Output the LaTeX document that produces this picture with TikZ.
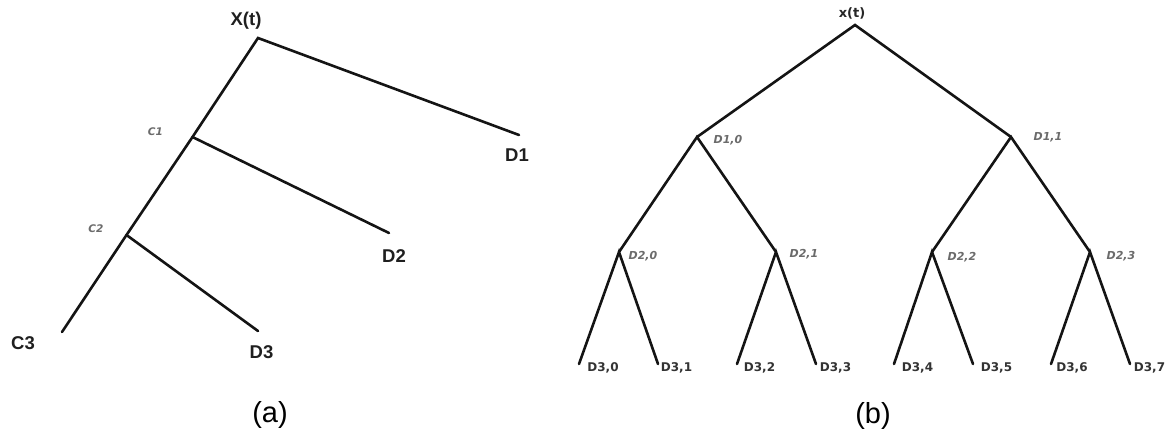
\documentclass[tikz,border=0pt]{standalone}
\usepackage{fontspec}
\setmainfont{Liberation Sans}
\newfontfamily\widefont{DejaVu Sans}
\begin{document}
\begin{tikzpicture}[x=1pt,y=-1pt,
  branch/.style={draw=black!92,line width=2.6pt,line cap=round,line join=miter},
  biglabel/.style={inner sep=0pt,text=black!88,font=\fontsize{18.5}{20}\selectfont\bfseries},
  coeflabel/.style={inner sep=0pt,text=black!58,font=\widefont\fontsize{10.5}{12}\selectfont\bfseries\itshape},
  rootlabel/.style={inner sep=0pt,text=black!85,font=\widefont\fontsize{13}{15}\selectfont\bfseries},
  leaflabel/.style={inner sep=0pt,text=black!80,font=\widefont\fontsize{12}{14}\selectfont\bfseries},
  midlabel/.style={inner sep=0pt,text=black!58,font=\widefont\fontsize{11}{13}\selectfont\bfseries\itshape},
  caption/.style={inner sep=0pt,text=black,font=\fontsize{29}{32}\selectfont}]
\useasboundingbox (0,0) rectangle (1169,439);

% ---------- (a) wavelet decomposition chain ----------
\coordinate (X)  at (258,38);
\coordinate (C1) at (192.5,137);
\coordinate (C2) at (126.5,235);
\coordinate (C3) at (62,332);
\coordinate (D1) at (519,135);
\coordinate (D2) at (389,233);
\coordinate (D3) at (258,331);

\draw[branch] (D1) -- (X) -- (C1) -- (C2) -- (C3);
\draw[branch] (C1) -- (D2);
\draw[branch] (C2) -- (D3);

\node[biglabel] (lX)  at (246,21)  {X(t)};
\node[biglabel] (lD1) at (517,155) {D1};
\node[biglabel] (lD2) at (394,256) {D2};
\node[biglabel] (lD3) at (261.5,352.5) {D3};
\node[biglabel] (lC3) at (23,343.5) {C3};
\node[coeflabel] (lC1) at (155.5,131.5) {C1};
\node[coeflabel] (lC2) at (96,229) {C2};
\node[caption] (capa) at (270,415) {(a)};

% ---------- (b) wavelet packet tree ----------
\coordinate (R)   at (855,25);
\coordinate (P10) at (697,137);
\coordinate (P11) at (1011,137);
\coordinate (P20) at (619,252);
\coordinate (P21) at (776,252);
\coordinate (P22) at (932,252);
\coordinate (P23) at (1090,252);
\foreach \i/\x in {0/579,1/658,2/737,3/816,4/894,5/973,6/1051,7/1130}
  \coordinate (L\i) at (\x,364);

\draw[branch] (P10) -- (R) -- (P11);
\draw[branch] (P20) -- (P10) -- (P21);
\draw[branch] (P22) -- (P11) -- (P23);
\draw[branch] (L0) -- (P20) -- (L1);
\draw[branch] (L2) -- (P21) -- (L3);
\draw[branch] (L4) -- (P22) -- (L5);
\draw[branch] (L6) -- (P23) -- (L7);

\node[rootlabel] (lR) at (852,13) {x(t)};
\node[midlabel] (l10) at (728,140) {D1,0};
\node[midlabel] (l11) at (1048,137) {D1,1};
\node[midlabel] (l20) at (643,256) {D2,0};
\node[midlabel] (l21) at (804,254) {D2,1};
\node[midlabel] (l22) at (962,257) {D2,2};
\node[midlabel] (l23) at (1121,256) {D2,3};
\foreach \i/\x in {0/603,1/676.5,2/759.5,3/835.5,4/917.5,5/996.5,6/1072,7/1149.5}
  \node[leaflabel] (l3\i) at (\x,368) {D3,\i};
\node[caption] (capb) at (873,416) {(b)};
\end{tikzpicture}
\end{document}
